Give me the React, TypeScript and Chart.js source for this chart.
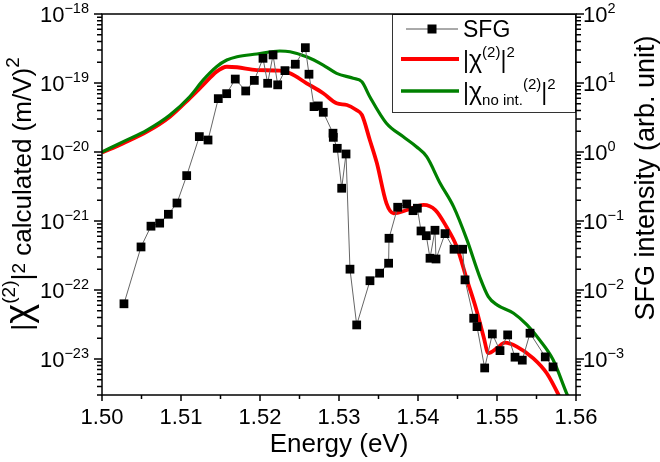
import React, { useEffect, useRef } from 'react';
import { Chart, registerables } from 'chart.js';

Chart.register(...registerables);

const FONT = '"Liberation Sans", Arial, Helvetica, sans-serif';

// SFG measurement (right axis, arb. unit)
const sfgEnergy = [
  1.50278, 1.50494, 1.5062, 1.5073, 1.5084, 1.50949, 1.51072, 1.51232, 1.51342, 1.51472,
  1.51578, 1.51687, 1.51819, 1.51928, 1.52038, 1.52097, 1.52165, 1.52224, 1.52316, 1.52447,
  1.52574, 1.5262, 1.52684, 1.52738, 1.52801, 1.52924, 1.52928, 1.52978, 1.53034, 1.53089,
  1.53139, 1.53224, 1.53392, 1.53514, 1.53628, 1.53633, 1.53743, 1.53857, 1.53937, 1.53992,
  1.54038, 1.54105, 1.54152, 1.54215, 1.54228, 1.54342, 1.54456, 1.54565, 1.54595, 1.54705,
  1.54747, 1.54844, 1.54941, 1.55038, 1.55135, 1.55228, 1.5532, 1.55418, 1.55611, 1.55709,
];
const sfgIntensity = [
  0.0063, 0.042, 0.084, 0.093, 0.125, 0.182, 0.454, 1.67, 1.49, 5.93,
  7.0, 11.4, 7.66, 10.9, 22.8, 9.9, 25.5, 9.4, 15.1, 18.7,
  32.5, 13.4, 4.54, 4.65, 3.76, 1.87, 1.63, 1.13, 0.298, 0.935,
  0.02, 0.00311, 0.0136, 0.0175, 0.0244, 0.0561, 0.158, 0.176, 0.141, 0.153,
  0.0716, 0.0612, 0.0288, 0.0733, 0.0281, 0.0655, 0.0389, 0.0389, 0.014, 0.00389,
  0.00294, 0.00074, 0.0023, 0.00132, 0.00223, 0.00106, 0.00096, 0.00236, 0.00107, 0.000766,
];

// |chi(2)|^2 calculated (left axis, (m/V)^2)
const chiEnergy = [
  1.5, 1.5027, 1.5057, 1.5086, 1.5111, 1.5128, 1.5145, 1.5158, 1.5171, 1.5196,
  1.5225, 1.5238, 1.5259, 1.528, 1.5297, 1.531, 1.5322, 1.5329, 1.5339, 1.5348,
  1.536, 1.5369, 1.5386, 1.5407, 1.5422, 1.5436, 1.5449, 1.5462, 1.5474, 1.5483,
  1.5489, 1.55, 1.551, 1.5525, 1.5546, 1.5563, 1.5578, 1.559,
];
const chiSquared = [
  9.8e-21, 1.34e-20, 1.97e-20, 3.25e-20, 6.0e-20, 9.35e-20, 1.46e-19, 1.72e-19, 1.69e-19, 1.54e-19,
  1.51e-19, 1.38e-19, 9.9e-20, 7.1e-20, 5.08e-20, 4.8e-20, 4.06e-20, 3.44e-20, 1.49e-20, 6.85e-21,
  1.81e-21, 1.29e-21, 1.44e-21, 1.71e-21, 1.44e-21, 8.26e-22, 4.25e-22, 1.4e-22, 5.13e-23, 2.1e-23,
  1.21e-23, 1.43e-23, 1.72e-23, 1.51e-23, 1.02e-23, 6.2e-24, 3.0e-24, 1.5e-24,
];

// |chi_no int.(2)|^2 (left axis)
const chiNoIntEnergy = [
  1.5, 1.5027, 1.5057, 1.5086, 1.5111, 1.5128, 1.5145, 1.5158, 1.5171, 1.5196,
  1.5225, 1.5238, 1.5259, 1.528, 1.5297, 1.5318, 1.5329, 1.5339, 1.536, 1.5381,
  1.5398, 1.5411, 1.5428, 1.5445, 1.5462, 1.5478, 1.5489, 1.55, 1.5521, 1.5538,
  1.5554, 1.5571, 1.5589, 1.56,
];
const chiNoIntSquared = [
  1.0e-20, 1.41e-20, 2.08e-20, 3.44e-20, 6.32e-20, 1.1e-19, 1.72e-19, 2.15e-19, 2.4e-19, 2.63e-19,
  2.91e-19, 2.84e-19, 2.4e-19, 1.82e-19, 1.38e-19, 1.17e-19, 1.04e-19, 6.32e-20, 2.61e-20, 1.67e-20,
  1.19e-20, 8.55e-21, 3.52e-21, 1.61e-21, 5.31e-22, 1.56e-22, 8.0e-23, 6.07e-23, 4.59e-23, 3.11e-23,
  1.88e-23, 9.7e-24, 3.0e-24, 1.6e-24,
];

// Axis ranges and tick labels
const xMin = 1.5;
const xMax = 1.56;
const xTickValues = [1.5, 1.51, 1.52, 1.53, 1.54, 1.55, 1.56];
const xTickLabels = ['1.50', '1.51', '1.52', '1.53', '1.54', '1.55', '1.56'];
const xMinorValues = [1.505, 1.515, 1.525, 1.535, 1.545, 1.555];
const leftMin = 3.0e-24;
const leftMax = 1e-18;
const leftExponents = [-18, -19, -20, -21, -22, -23];
const rightMin = 3.0e-4;
const rightMax = 100;
const rightExponents = [2, 1, 0, -1, -2, -3];

const seriesNames = ['SFG', '|χ(2)|2', '|χno int.(2)|2'];

type Part = { t: string; size: number; dy?: number };

const supNum = (n: number) => (n < 0 ? '\u2212' + Math.abs(n) : String(n));

function drawRich(ctx: CanvasRenderingContext2D, parts: Part[], x: number, y: number, align: 'left' | 'right' | 'center') {
  let total = 0;
  const widths: number[] = [];
  for (const p of parts) {
    ctx.font = `${p.size}px ${FONT}`;
    const w = ctx.measureText(p.t).width;
    widths.push(w);
    total += w;
  }
  let cx = align === 'left' ? x : align === 'right' ? x - total : x - total / 2;
  ctx.textAlign = 'left';
  ctx.textBaseline = 'alphabetic';
  parts.forEach((p, i) => {
    ctx.font = `${p.size}px ${FONT}`;
    ctx.fillText(p.t, cx, y + (p.dy || 0));
    cx += widths[i];
  });
}

const decorPlugin = {
  id: 'decor',
  afterDatasetsDraw(chart: any) {
    const ctx: CanvasRenderingContext2D = chart.ctx;
    const { left, right, top, bottom } = chart.chartArea;
    const xs = chart.scales.x;
    const yl = chart.scales.yL;
    const yr = chart.scales.yR;
    ctx.save();
    ctx.fillStyle = '#000';
    ctx.strokeStyle = '#000';

    // Legend box
    const lgL = right - 184;
    const lgB = top + 98;
    ctx.fillStyle = '#fff';
    ctx.fillRect(lgL, top, right - lgL, lgB - top);
    ctx.lineWidth = 1;
    ctx.strokeStyle = '#333';
    ctx.strokeRect(lgL + 0.5, top + 0.5, right - lgL - 1, lgB - top);
    // SFG entry
    ctx.strokeStyle = '#555';
    ctx.lineWidth = 1;
    ctx.beginPath();
    ctx.moveTo(lgL + 14, top + 15);
    ctx.lineTo(lgL + 66, top + 15);
    ctx.stroke();
    ctx.fillStyle = '#000';
    ctx.fillRect(lgL + 40 - 4.5, top + 15 - 4.5, 9, 9);
    // red entry
    ctx.strokeStyle = '#ff0000';
    ctx.lineWidth = 4;
    ctx.beginPath();
    ctx.moveTo(lgL + 9, top + 45);
    ctx.lineTo(lgL + 67, top + 45);
    ctx.stroke();
    // green entry
    ctx.strokeStyle = '#008000';
    ctx.lineWidth = 3.5;
    ctx.beginPath();
    ctx.moveTo(lgL + 9, top + 77);
    ctx.lineTo(lgL + 67, top + 77);
    ctx.stroke();
    ctx.fillStyle = '#000';
    const tx = lgL + 71;
    drawRich(ctx, [{ t: seriesNames[0], size: 23 }], tx, top + 23, 'left');
    drawRich(ctx, [
      { t: '|', size: 23 },
      { t: 'χ', size: 25 },
      { t: '(2)', size: 15, dy: -11 },
      { t: '|', size: 23 },
      { t: '2', size: 15, dy: -11 },
    ], tx, top + 54, 'left');
    drawRich(ctx, [
      { t: '|', size: 23 },
      { t: 'χ', size: 25 },
      { t: 'no int.', size: 15, dy: 5 },
      { t: '(2)', size: 15, dy: -11 },
      { t: '|', size: 23 },
      { t: '2', size: 15, dy: -11 },
    ], tx, top + 86, 'left');

    // Frame
    ctx.strokeStyle = '#000';
    ctx.lineWidth = 1.5;
    ctx.strokeRect(left, top, right - left, bottom - top);

    // Bottom ticks
    ctx.lineWidth = 1.5;
    ctx.beginPath();
    xTickValues.forEach((v) => {
      const px = xs.getPixelForValue(v);
      ctx.moveTo(px, bottom);
      ctx.lineTo(px, bottom + 6);
    });
    xMinorValues.forEach((v) => {
      const px = xs.getPixelForValue(v);
      ctx.moveTo(px, bottom);
      ctx.lineTo(px, bottom + 4);
    });
    // Left ticks
    for (let k = -24; k <= -18; k++) {
      for (let m = 1; m <= 9; m++) {
        const v = m * Math.pow(10, k);
        if (v < leftMin * 0.999 || v > leftMax * 1.001) continue;
        const py = yl.getPixelForValue(v);
        ctx.moveTo(left, py);
        ctx.lineTo(left - (m === 1 ? 8 : 5), py);
      }
    }
    // Right ticks
    for (let k = -4; k <= 2; k++) {
      for (let m = 1; m <= 9; m++) {
        const v = m * Math.pow(10, k);
        if (v < rightMin * 0.999 || v > rightMax * 1.001) continue;
        const py = yr.getPixelForValue(v);
        ctx.moveTo(right, py);
        ctx.lineTo(right + (m === 1 ? 8 : 5), py);
      }
    }
    ctx.stroke();

    ctx.fillStyle = '#000';
    xTickValues.forEach((v, i) => {
      const px = xs.getPixelForValue(v);
      drawRich(ctx, [{ t: xTickLabels[i], size: 22 }], px, bottom + 29, 'center');
    });
    leftExponents.forEach((e) => {
      const py = yl.getPixelForValue(Math.pow(10, e));
      drawRich(ctx, [{ t: '10', size: 22 }, { t: supNum(e), size: 14.5, dy: -9 }], left - 13, py + 8, 'right');
    });
    rightExponents.forEach((e) => {
      const py = yr.getPixelForValue(Math.pow(10, e));
      drawRich(ctx, [{ t: '10', size: 22 }, { t: supNum(e), size: 14.5, dy: -9 }], right + 7, py + 8, 'left');
    });

    // Axis titles
    drawRich(ctx, [{ t: 'Energy (eV)', size: 26 }], (left + right) / 2, 452, 'center');

    ctx.save();
    ctx.translate(31, 194);
    ctx.rotate(-Math.PI / 2);
    drawRich(ctx, [
      { t: '|', size: 27 },
      { t: 'χ', size: 38 },
      { t: '(2)', size: 19, dy: -16 },
      { t: '|', size: 27 },
      { t: '2', size: 19, dy: -6 },
      { t: ' calculated (m/V)', size: 26 },
      { t: '2', size: 19, dy: -12 },
    ], 0, 0, 'center');
    ctx.restore();

    ctx.save();
    ctx.translate(654, 178);
    ctx.rotate(-Math.PI / 2);
    drawRich(ctx, [{ t: 'SFG intensity (arb. unit)', size: 27 }], 0, 0, 'center');
    ctx.restore();

    ctx.restore();
  },
};

export default function App() {
  const canvasRef = useRef<HTMLCanvasElement | null>(null);

  useEffect(() => {
    const canvas = canvasRef.current;
    if (!canvas) return;
    const sfgData = sfgEnergy.map((x, i) => ({ x, y: sfgIntensity[i] }));
    const chiData = chiEnergy.map((x, i) => ({ x, y: chiSquared[i] }));
    const chiNoIntData = chiNoIntEnergy.map((x, i) => ({ x, y: chiNoIntSquared[i] }));

    const chart = new Chart(canvas, {
      type: 'line',
      data: {
        datasets: [
          {
            label: seriesNames[0],
            data: sfgData,
            yAxisID: 'yR',
            borderColor: '#666666',
            borderWidth: 1,
            backgroundColor: '#000000',
            pointStyle: 'rect',
            pointRadius: 6.2,
            pointBorderWidth: 0,
            pointBackgroundColor: '#000000',
            pointBorderColor: '#000000',
            tension: 0,
            clip: 6,
          },
          {
            label: seriesNames[2],
            data: chiNoIntData,
            yAxisID: 'yL',
            borderColor: '#008000',
            borderWidth: 3.2,
            pointRadius: 0,
            cubicInterpolationMode: 'monotone',
            clip: 0,
          },
          {
            label: seriesNames[1],
            data: chiData,
            yAxisID: 'yL',
            borderColor: '#ff0000',
            borderWidth: 3.8,
            pointRadius: 0,
            cubicInterpolationMode: 'monotone',
            clip: 0,
          },
        ],
      } as any,
      options: {
        animation: false,
        responsive: false,
        maintainAspectRatio: false,
        devicePixelRatio: 1,
        layout: { padding: { top: 14, left: 0, right: 0, bottom: 0 } },
        plugins: { legend: { display: false }, tooltip: { enabled: false }, title: { display: false } },
        events: [],
        scales: {
          x: {
            type: 'linear',
            min: xMin,
            max: xMax,
            grid: { display: false },
            border: { display: false },
            ticks: { display: false },
            afterFit: (s: any) => { s.height = 67; },
          },
          yL: {
            type: 'logarithmic',
            position: 'left',
            min: leftMin,
            max: leftMax,
            grid: { display: false },
            border: { display: false },
            ticks: { display: false },
            afterFit: (s: any) => { s.width = 102; },
          },
          yR: {
            type: 'logarithmic',
            position: 'right',
            min: rightMin,
            max: rightMax,
            grid: { display: false },
            border: { display: false },
            ticks: { display: false },
            afterFit: (s: any) => { s.width = 84; },
          },
        },
      } as any,
      plugins: [decorPlugin],
    });
    return () => chart.destroy();
  }, []);

  return (
    <div style={{ position: 'fixed', left: 0, top: 0, width: 660, height: 462, background: '#fff' }}>
      <canvas ref={canvasRef} width={660} height={462} style={{ width: 660, height: 462, display: 'block' }} />
    </div>
  );
}
